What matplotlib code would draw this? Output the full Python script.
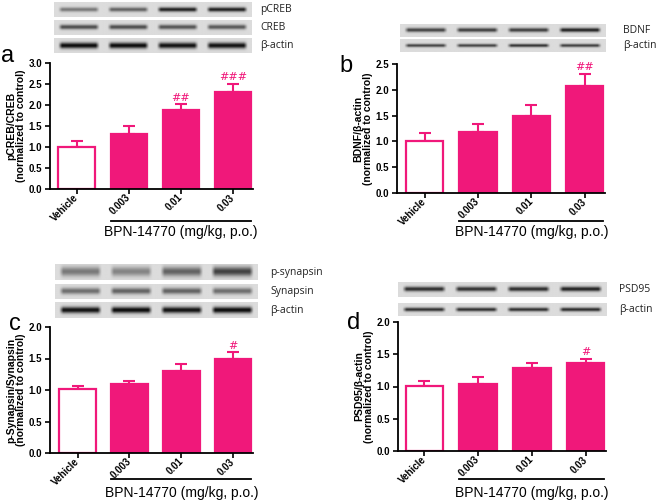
import numpy as np
import matplotlib
matplotlib.use("Agg")
import matplotlib.pyplot as plt
from matplotlib.transforms import blended_transform_factory

plt.rcParams['font.family'] = ['Liberation Sans', 'DejaVu Sans']

groups = ['Vehicle', '0.003', '0.01', '0.03']

# panel a: pCREB/CREB
creb_mean = [1.00, 1.31, 1.88, 2.30]
creb_err = [0.15, 0.18, 0.14, 0.21]
creb_sig = ['', '', '##', '###']

# panel b: BDNF/beta-actin
bdnf_mean = [1.00, 1.19, 1.49, 2.08]
bdnf_err = [0.16, 0.14, 0.21, 0.23]
bdnf_sig = ['', '', '', '##']

# panel c: p-synapsin/synapsin
syn_mean = [1.01, 1.10, 1.30, 1.49]
syn_err = [0.06, 0.05, 0.11, 0.11]
syn_sig = ['', '', '', '#']

# panel d: PSD95/beta-actin
psd_mean = [1.01, 1.04, 1.28, 1.37]
psd_err = [0.07, 0.10, 0.08, 0.06]
psd_sig = ['', '', '', '#']

# blot band darkness per lane (0 = blank, 1 = black)
blot_pcreb = [0.45, 0.55, 0.85, 0.85]
blot_creb = [0.65, 0.65, 0.62, 0.60]
blot_actin_a = [0.95, 0.95, 0.92, 0.92]
blot_bdnf = [0.70, 0.72, 0.72, 0.85]
blot_actin_b = [0.70, 0.70, 0.78, 0.72]
blot_psyn = [0.45, 0.40, 0.55, 0.70]
blot_syn = [0.50, 0.55, 0.55, 0.50]
blot_actin_c = [0.92, 0.95, 0.92, 0.95]
blot_psd = [0.80, 0.78, 0.80, 0.85]
blot_actin_d = [0.78, 0.78, 0.78, 0.80]

PINK = '#F0187A'
W, H = 662, 500

fig = plt.figure(figsize=(6.62, 5.0), dpi=100)


def px_axes(x0, y0, x1, y1):
    # pixel box (top-left origin) -> figure axes
    return fig.add_axes([x0 / W, 1 - y1 / H, (x1 - x0) / W, (y1 - y0) / H])


def blot(box, dark, label, lab_x, thick=0.35, bg=0.86):
    ax = px_axes(*box)
    h, w = 40, 400
    yy = np.linspace(-1, 1, h)[:, None]
    xx = np.linspace(0, 4, w)[None, :]
    img = np.full((h, w), bg)
    for i, d in enumerate(dark):
        c = i + 0.5
        xprof = np.clip((0.42 - np.abs(xx - c)) / 0.08, 0, 1)
        yprof = np.exp(-(yy / thick) ** 2)
        img = img - d * bg * xprof * yprof
    ax.imshow(img, cmap='gray', vmin=0, vmax=1, aspect='auto',
              interpolation='bilinear')
    ax.set_axis_off()
    fig.text(lab_x / W, 1 - (box[1] + box[3]) / 2 / H, label,
             fontsize=7.5, family=['Open Sans', 'DejaVu Sans'],
             color='#222222', va='center', ha='left')


def panel(box, xlim, ymax, step, means, errs, sigs, ylabel, letter, letter_xy,
          line_y, text_y):
    ax = px_axes(*box)
    x = np.arange(len(groups))
    colors = ['white', PINK, PINK, PINK]
    ax.bar(x, means, width=0.7, color=colors, edgecolor=PINK, linewidth=1.6,
           zorder=2)
    ax.errorbar(x, means, yerr=[[0] * 4, errs], fmt='none', ecolor=PINK,
                elinewidth=1.5, capsize=4.5, capthick=1.5, zorder=1)
    for xi, m, e, s in zip(x, means, errs, sigs):
        if s:
            ax.text(xi, m + e + ymax * 0.012, s, color=PINK, ha='center',
                    va='bottom', fontsize=8, family='DejaVu Serif')
    ax.set_xlim(*xlim)
    ax.set_ylim(0, ymax)
    ticks = np.arange(0, ymax + 0.01, step)
    ax.set_yticks(ticks)
    ax.set_yticklabels(['%.1f' % v for v in ticks], fontsize=7,
                       fontweight='bold')
    ax.set_xticks(x)
    ax.set_xticklabels(groups, rotation=45, ha='right', va='center',
                       rotation_mode='anchor', fontsize=7, fontweight='bold')
    ax.tick_params(width=1.2, length=3.5, pad=2)
    ax.tick_params(axis='x', pad=1.5)
    for sp in ['top', 'right']:
        ax.spines[sp].set_visible(False)
    for sp in ['left', 'bottom']:
        ax.spines[sp].set_linewidth(1.3)
    ax.set_ylabel(ylabel + '\n(normalized to control)', fontsize=7.5,
                  fontweight='bold', linespacing=1.05, va='center')
    ax.yaxis.set_label_coords(-34 / (box[2] - box[0]), 0.5)
    tr = blended_transform_factory(ax.transData, fig.transFigure)
    ax.plot([0.65, 3.35], [1 - line_y / H] * 2, color='black', lw=1.3,
            transform=tr, clip_on=False)
    ax.text(2.0, 1 - text_y / H, 'BPN-14770 (mg/kg, p.o.)', transform=tr,
            ha='center', va='center', fontsize=10)
    fig.text(letter_xy[0] / W, 1 - letter_xy[1] / H, letter, fontsize=17,
             ha='left', va='baseline')
    return ax


# panel a
blot((54, 2, 252, 17), blot_pcreb, 'pCREB', 260, thick=0.3)
blot((54, 20, 252, 35), blot_creb, 'CREB', 260, thick=0.3)
blot((54, 38, 252, 53), blot_actin_a, '\u03b2-actin', 260, thick=0.4)
panel((50, 63, 253, 189), (-0.51, 3.38), 3.0, 0.5, creb_mean, creb_err,
      creb_sig, 'pCREB/CREB', 'a', (1, 62), 221, 232)

# panel b
blot((400, 24, 606, 37), blot_bdnf, 'BDNF', 623, thick=0.3)
blot((400, 39, 606, 52), blot_actin_b, '\u03b2-actin', 623, thick=0.25)
panel((397, 64, 605, 193), (-0.52, 3.38), 2.5, 0.5, bdnf_mean, bdnf_err,
      bdnf_sig, 'BDNF/\u03b2-actin', 'b', (339, 72), 221, 232)

# panel c
blot((55, 264, 258, 280), blot_psyn, 'p-synapsin', 270, thick=0.55)
blot((55, 284, 258, 299), blot_syn, 'Synapsin', 270, thick=0.4)
blot((55, 302, 258, 318), blot_actin_c, '\u03b2-actin', 270, thick=0.4)
panel((50, 327, 253, 453), (-0.53, 3.38), 2.0, 0.5, syn_mean, syn_err,
      syn_sig, 'p-Synapsin/Synapsin', 'c', (9, 330), 479, 493)

# panel d
blot((398, 282, 607, 297), blot_psd, 'PSD95', 619, thick=0.3)
blot((398, 303, 607, 316), blot_actin_d, '\u03b2-actin', 619, thick=0.3)
panel((398, 322, 606, 451), (-0.49, 3.38), 2.0, 0.5, psd_mean, psd_err,
      psd_sig, 'PSD95/\u03b2-actin', 'd', (347, 329), 479, 493)

fig.savefig('out.png', dpi=100)
